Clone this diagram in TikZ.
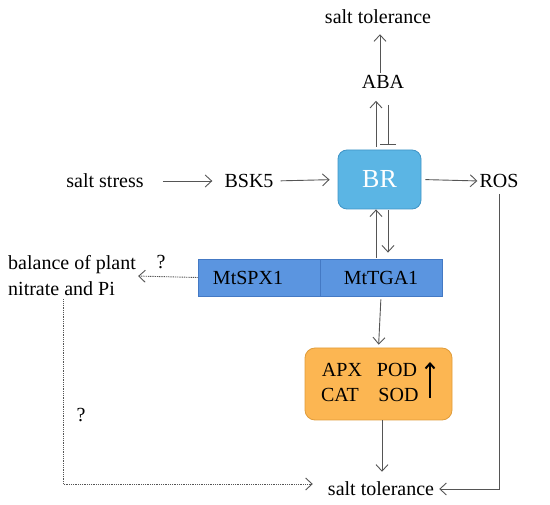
\documentclass[tikz,border=0pt]{standalone}
\usepackage{fontspec}
\setmainfont{Liberation Serif}
\newfontfamily\tnr{Liberation Serif}
\usetikzlibrary{arrows.meta,calc}
\definecolor{linegray}{HTML}{555555}
\definecolor{brfill}{HTML}{5BB5E4}
\definecolor{brdraw}{HTML}{3F94C6}
\definecolor{barfill}{HTML}{5B95E0}
\definecolor{bardraw}{HTML}{4479C4}
\definecolor{orfill}{HTML}{FCB652}
\definecolor{ordraw}{HTML}{E09C3A}
\tikzset{
  lbl/.style={font=\tnr\fontsize{20}{24}\selectfont, inner sep=0pt},
  conn/.style={draw=linegray, line width=0.9pt, -{Straight Barb[length=6.5pt,width=12pt,line width=0.9pt]}},
  dotconn/.style={conn, dash pattern=on 1pt off 0.8pt},
  inhib/.style={draw=linegray, line width=0.9pt, -{Bar[width=16pt,line width=0.9pt]}},
  brbox/.style={draw=brdraw, fill=brfill, line width=0.8pt, rounded corners=9pt, minimum width=83pt, minimum height=59pt, text=white, font=\tnr\fontsize{26}{30}\selectfont},
  genebox/.style={draw=bardraw, fill=barfill, line width=0.8pt, minimum width=122pt, minimum height=37pt, inner sep=0pt},
  orbox/.style={draw=ordraw, fill=orfill, line width=0.8pt, rounded corners=10pt, minimum width=147pt, minimum height=72pt},
}
\begin{document}
\begin{tikzpicture}[x=1pt,y=-1pt]
\useasboundingbox (0,0) rectangle (550,505);
% nodes
\node[lbl] (sttop) at (378,17) {salt tolerance};
\node[lbl] (aba) at (383,82) {ABA};
\node[brbox] (br) at (379.5,179.5) {BR};
\node[lbl] (stress) at (105,181) {salt stress};
\node[lbl] (bsk) at (249,181) {BSK5};
\node[lbl] (ros) at (499,181) {ROS};
\node[genebox] (spx) at (259,277.5) {};
\node[genebox] (tga) at (381,277.5) {};
\node[lbl] (spxt) at (248,278) {MtSPX1};
\node[lbl] (tgat) at (381,278) {MtTGA1};
\node[lbl, align=left, anchor=west, font=\tnr\fontsize{20}{26}\selectfont] (bal) at (8,276) {balance of plant\\nitrate and Pi};
\node[lbl] (q1) at (161,262) {?};
\node[lbl] (q2) at (81,415) {?};
\node[orbox] (enz) at (378.5,384) {};
\node[lbl] (apx) at (342,370) {APX};
\node[lbl] (pod) at (397,370) {POD};
\node[lbl] (cat) at (340,395) {CAT};
\node[lbl] (sod) at (398.5,395) {SOD};
\coordinate (upbot) at (430,398);
\coordinate (uptop) at (430,362);
\node[lbl] (stbot) at (381,489) {salt tolerance};
% connectors
\draw[conn, shorten <=2pt, shorten >=10pt] ([xshift=-3]aba.north) -- ([xshift=2]sttop.south);
\draw[conn, shorten <=3pt, shorten >=12pt] ([xshift=-3.5]br.north) -- ([xshift=-7]aba.south);
\draw[inhib, shorten <=16pt, shorten >=5pt] ([xshift=5]aba.south) -- ([xshift=8.5]br.north);
\draw[conn, shorten <=19pt, shorten >=12pt] (stress.east) -- (bsk.west);
\draw[conn, shorten <=7pt, shorten >=8pt] (bsk.east) -- (br.west);
\draw[conn, shorten <=4pt, shorten >=2pt] (br.east) -- (ros.west);
\draw[conn, shorten <=3pt] (ros.south) ++(0,3) |- ([xshift=5pt]stbot.east);
\draw[conn, shorten <=1pt] ([xshift=-5]tga.north) -- ([xshift=-3.5]br.south);
\draw[conn, shorten <=1pt, shorten >=6pt] ([xshift=8.5]br.south) -- ([xshift=7]tga.north);
\draw[dotconn, shorten >=2pt] (spx.west) -- (bal.east);
\draw[dotconn] ([xshift=-9]bal.south) ++(0,3) |- ([xshift=-15,yshift=5]stbot.west);
\draw[conn, shorten <=3pt, shorten >=3pt] (tga.south) -- (enz.north);
\draw[conn, shorten >=10pt] ([xshift=3.5]enz.south) -- ([xshift=1]stbot.north);
\draw[line width=2.2pt, -{Straight Barb[length=5pt,width=9pt,line width=2pt]}] (upbot) -- (uptop);
\end{tikzpicture}
\end{document}
